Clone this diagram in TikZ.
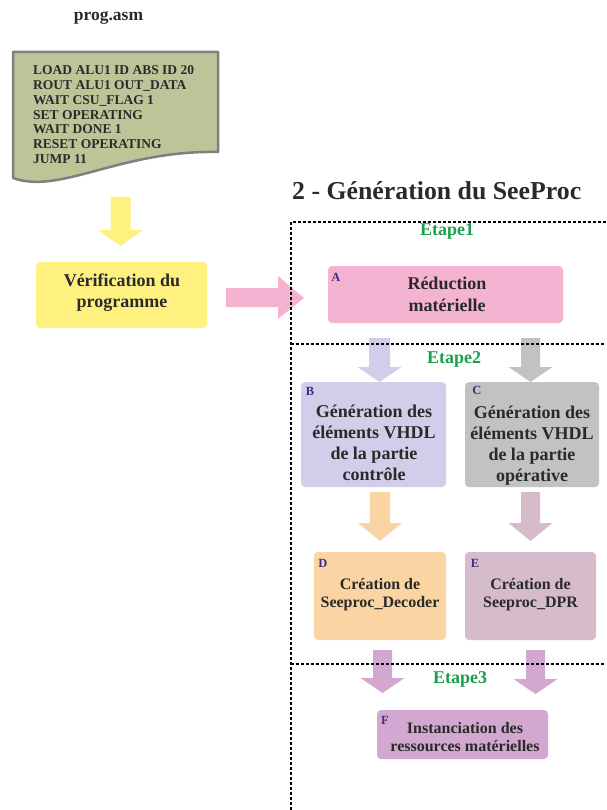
\documentclass[tikz,border=0pt]{standalone}
\usepackage{fontspec}
\setmainfont{Liberation Serif}
\definecolor{txt}{HTML}{2A2A2A}
\definecolor{docfill}{HTML}{BCC498}
\definecolor{docline}{HTML}{7F7F7F}
\definecolor{yel}{HTML}{FFF17F}
\definecolor{pinkA}{HTML}{F4B3D0}
\definecolor{lavB}{HTML}{D2CDE8}
\definecolor{greyC}{HTML}{C2C3C1}
\definecolor{orgD}{HTML}{FAD4A2}
\definecolor{mauE}{HTML}{D6BBCB}
\definecolor{purF}{HTML}{D2A8D0}
\definecolor{etape}{HTML}{1C9E4E}
\definecolor{lettre}{HTML}{3A2E8C}
\newcommand{\bdown}[7]{\fill[#1] ({#2-#5},#3) -- ({#2+#5},#3) -- ({#2+#5},#4) -- ({#2+#6},#4) -- (#2,#7) -- ({#2-#6},#4) -- ({#2-#5},#4) -- cycle;}
\tikzset{
  box/.style={rounded corners=4pt, inner sep=0pt},
  btext/.style={font=\bfseries\fontsize{18}{21}\selectfont, text=txt, align=center, inner sep=0pt},
  stext/.style={font=\bfseries\fontsize{16}{18}\selectfont, text=txt, align=center, inner sep=0pt},
  lbl/.style={font=\bfseries\fontsize{12.5}{12.5}\selectfont, text=lettre, inner sep=0pt},
  etp/.style={font=\bfseries\fontsize{18}{18}\selectfont, text=etape, inner sep=0pt},
  sep/.style={line width=1.3pt, dash pattern=on 3pt off 2pt, black},
}
\begin{document}
\begin{tikzpicture}[x=1pt,y=-1pt]
\useasboundingbox (0,0) rectangle (606,810);
% title prog.asm
\node[font=\bfseries\fontsize{17.5}{17.5}\selectfont, text=txt, inner sep=0pt] (prog) at (108.5,18) {prog.asm};
% document shape
\draw[fill=docfill, draw=docline, line width=2.5pt, line join=round] (13,52) -- (218,52) -- (218,152) .. controls (120,150) and (60,195) .. (13,178) -- cycle;
\node[font=\bfseries\fontsize{13.5}{14.8}\selectfont, text=txt, align=left, anchor=north west, inner sep=0pt] (code) at (33,65.5) {LOAD ALU1 ID ABS ID 20\\ROUT ALU1 OUT\_DATA\\WAIT CSU\_FLAG 1\\SET OPERATING\\WAIT DONE 1\\RESET OPERATING\\JUMP 11};
% yellow arrow
\bdown{yel}{120.5}{197}{230}{10}{22.5}{246}
% verification box
\node[box, fill=yel, minimum width=171pt, minimum height=66pt] (verif) at (121.5,295) {};
\node[font=\bfseries\fontsize{18}{21}\selectfont, text=txt, align=center, inner sep=0pt] (verift) at (122,293) {Vérification du\\programme};
% pink right arrow
\fill[pinkA] (226,288) -- (278,288) -- (278,276) -- (304,298) -- (278,319) -- (278,307) -- (226,307) -- cycle;
% title 2
\node[font=\bfseries\fontsize{25.8}{25.8}\selectfont, text=txt, anchor=west, inner sep=0pt] (titre) at (292,191) {2 - Génération du SeeProc};
% arrows
\bdown{lavB}{379.5}{338}{367}{10.5}{22}{382}
\bdown{greyC}{530.5}{338}{367}{9.5}{22}{382}
\bdown{orgD}{380}{492}{523}{10}{22}{541}
\bdown{mauE}{530.5}{492}{523}{9.5}{22}{541}
\bdown{purF}{382.5}{650}{678}{9.5}{22}{693}
\bdown{purF}{535.5}{650}{679}{9.5}{22}{694}
% frame
\draw[sep] (291,810) -- (291,222) -- (606,222);
\draw[sep] (291,344) -- (606,344);
\draw[sep] (291,664) -- (606,664);
% etapes
\node[etp] (e1) at (447,231) {Etape1};
\node[etp] (e2) at (454,359) {Etape2};
\node[etp] (e3) at (460,679) {Etape3};
% Box A
\node[box, fill=pinkA, minimum width=235pt, minimum height=57pt] (A) at (445.5,294.5) {};
\node[btext, font=\bfseries\fontsize{18}{22}\selectfont] (At) at (447,294) {Réduction\\matérielle};
\node[lbl] (Al) at (336,277) {A};
% Box B
\node[box, fill=lavB, minimum width=145pt, minimum height=105pt] (B) at (373.5,434.5) {};
\node[btext] (Bt) at (374,443) {Génération des\\éléments VHDL\\de la partie\\contrôle};
\node[lbl] (Bl) at (310,391) {B};
% Box C
\node[box, fill=greyC, minimum width=134pt, minimum height=105pt] (C) at (532,434.5) {};
\node[btext] (Ct) at (532,446) {Génération des\\éléments VHDL\\de la partie\\opérative};
\node[lbl] (Cl) at (477,390) {C};
% Box D
\node[box, fill=orgD, minimum width=132pt, minimum height=88pt] (D) at (380,596) {};
\node[stext] (Dt) at (380,595) {Création de\\Seeproc\_Decoder};
\node[lbl] (Dl) at (323,563) {D};
% Box E
\node[box, fill=mauE, minimum width=131pt, minimum height=88pt] (E) at (530.5,596) {};
\node[stext] (Et) at (530.5,595) {Création de\\Seeproc\_DPR};
\node[lbl] (El) at (475,563) {E};
% Box F
\node[box, fill=purF, minimum width=171pt, minimum height=49pt] (F) at (462.5,734.5) {};
\node[stext] (Ft) at (465,737) {Instanciation des\\ressources matérielles};
\node[lbl] (Fl) at (385,720) {F};
\end{tikzpicture}
\end{document}
